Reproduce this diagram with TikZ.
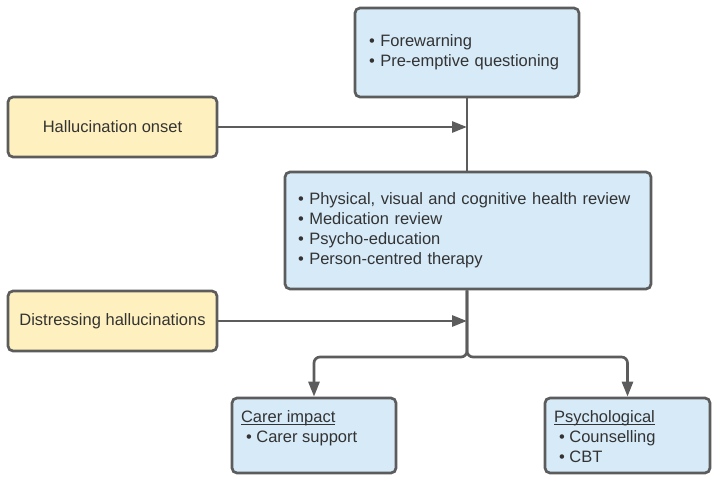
\documentclass[tikz,border=0pt]{standalone}
\usepackage{fontspec}
\setmainfont{Liberation Sans}
\usetikzlibrary{arrows.meta}
\definecolor{boxblue}{HTML}{D6EAF8}
\definecolor{boxyellow}{HTML}{FFF1BF}
\definecolor{edgegray}{HTML}{5C5C5C}
\definecolor{textgray}{HTML}{333333}
\newcommand\myul[1]{\setbox0\hbox{#1}\rlap{\rule[-1.8bp]{\wd0}{0.9bp}}\box0}
\tikzset{
  box/.style={draw=edgegray, line width=2.7bp, rounded corners=5bp, text=textgray,
    font=\fontsize{16.5bp}{20bp}\selectfont, inner sep=0pt},
  bluebox/.style={box, fill=boxblue},
  yellowbox/.style={box, fill=boxyellow, align=center},
  conn/.style={draw=edgegray, line width=2.7bp},
  arr/.style={conn, -{Triangle[length=15bp,width=11bp]}},
}
\begin{document}
\begin{tikzpicture}[x=1bp,y=-1bp]
\useasboundingbox (0,0) rectangle (720,483);
% boxes
\node[bluebox, minimum width=224bp, minimum height=89bp, align=left, text width=196bp, inner xsep=14bp] (top) at (467,52.5)
  {• Forewarning\\• Pre-emptive questioning};
\node[yellowbox, minimum width=209bp, minimum height=60bp] (onset) at (112.5,127) {Hallucination onset};
\node[bluebox, minimum width=366bp, minimum height=117bp, align=left, text width=340bp, inner xsep=13bp] (mid) at (468,230.5)
  {• Physical, visual and cognitive health review\\• Medication review\\• Psycho-education\\• Person-centred therapy};
\node[yellowbox, minimum width=209bp, minimum height=60bp] (dist) at (112.5,321) {Distressing hallucinations};
\node[bluebox, minimum width=164bp, minimum height=75bp] (carer) at (314,435.5)
  {\begin{minipage}[c][75bp][t]{164bp}\vspace*{13bp}\hspace*{9bp}\myul{Carer impact}\\\hspace*{14bp}• Carer support\end{minipage}};
\node[bluebox, minimum width=165bp, minimum height=75bp] (psych) at (627.5,435.5)
  {\begin{minipage}[c][75bp][t]{165bp}\vspace*{13bp}\hspace*{9bp}\myul{Psychological}\\\hspace*{14bp}• Counselling\\\hspace*{14bp}• CBT\end{minipage}};
% connectors
\coordinate (j1) at (467,127);
\coordinate (j2) at (467,321);
\coordinate (split) at (467,357);
\path[conn] (top.south -| j1) -- (mid.north -| j1);
\path[arr] (onset.east) -- (j1);
\path[arr] (dist.east) -- (j2);
\path[arr, rounded corners=6bp] (mid.south -| j1) -- (split) -| (carer.north);
\path[arr, rounded corners=6bp] (mid.south -| j1) -- (split) -| (psych.north);
\end{tikzpicture}
\end{document}
